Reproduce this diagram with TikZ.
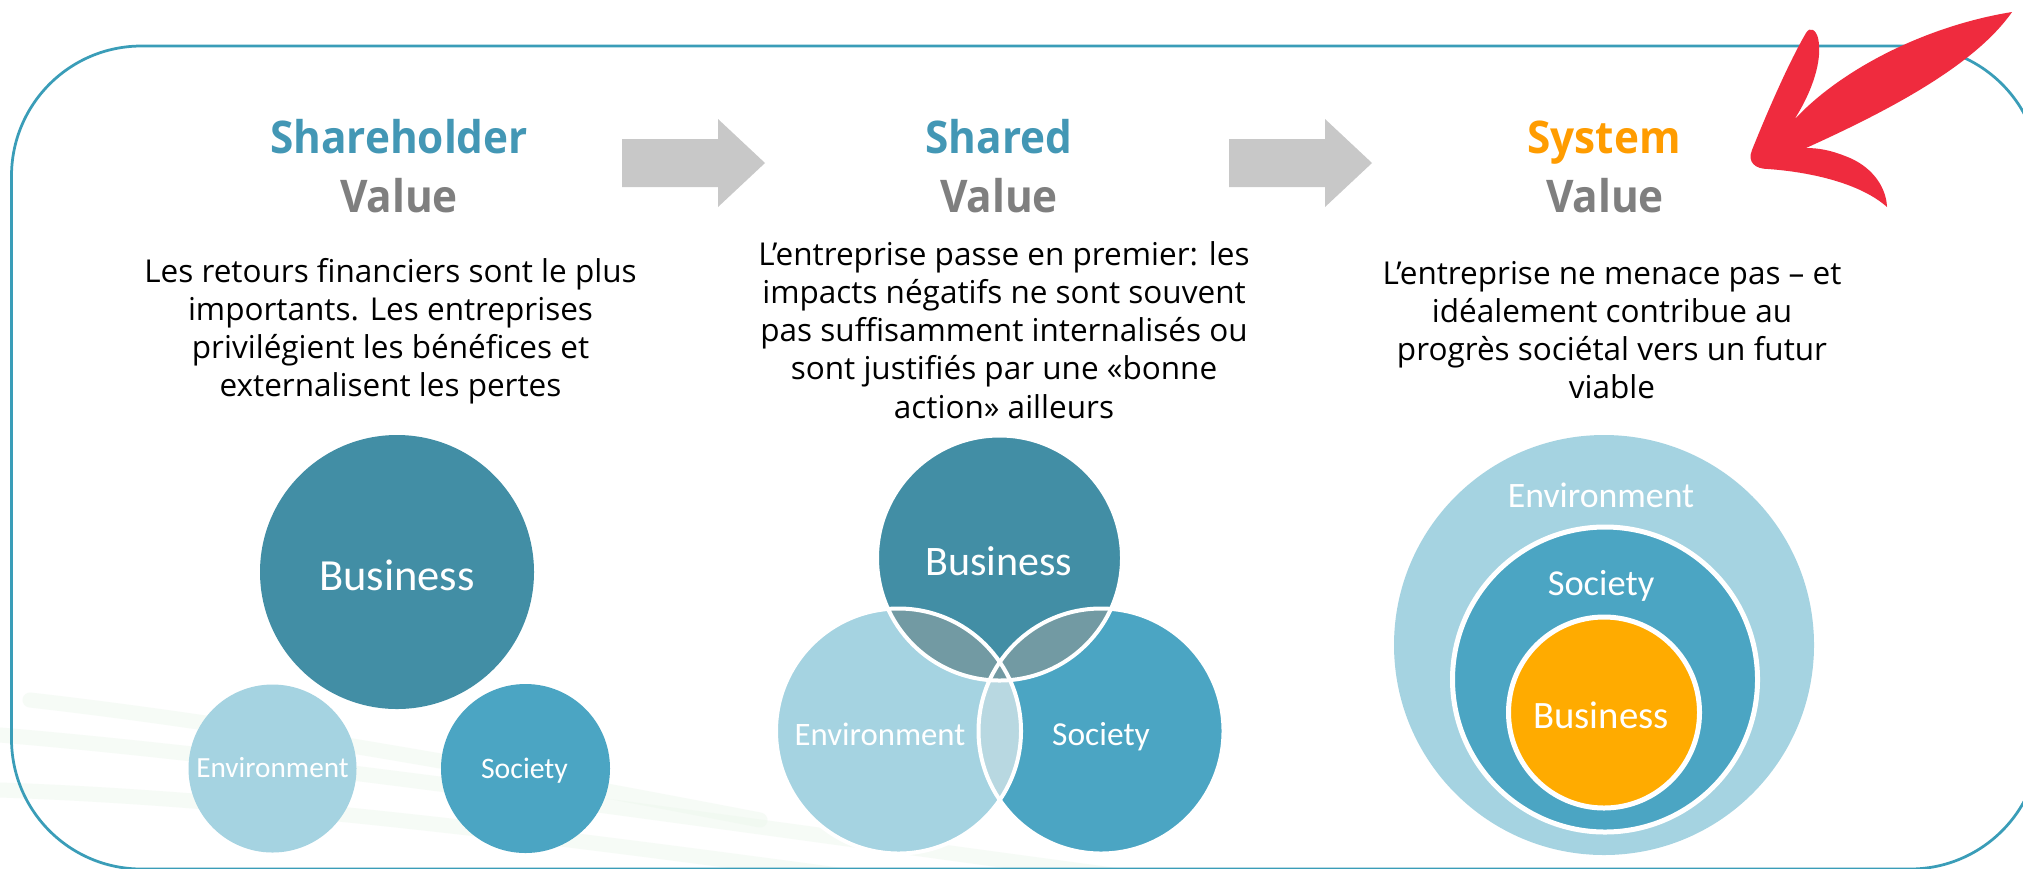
\documentclass[tikz,border=0pt]{standalone}
\usepackage{fontspec}
\setmainfont{Open Sans}
\newfontfamily\headfont[FakeStretch=0.94]{Open Sans}
\newfontfamily\labfont{Carlito}
\definecolor{frameC}{RGB}{58,157,184}
\definecolor{titleC}{RGB}{67,151,181}
\definecolor{valC}{RGB}{127,127,127}
\definecolor{sysC}{RGB}{255,156,0}
\definecolor{arrC}{RGB}{200,200,200}
\definecolor{busC}{RGB}{66,142,165}
\definecolor{socC}{RGB}{75,165,195}
\definecolor{envC}{RGB}{165,211,225}
\definecolor{ovC}{RGB}{114,154,163}
\definecolor{esC}{RGB}{184,216,225}
\definecolor{orC}{RGB}{255,171,0}
\definecolor{redC}{RGB}{239,43,62}
\definecolor{swC}{RGB}{236,247,236}
\begin{document}
\begin{tikzpicture}[x=0.4pt,y=-0.4pt,
  titlestyle/.style={font=\headfont\bfseries\fontsize{18}{18}\selectfont, anchor=base, inner sep=0},
  bodystyle/.style={font=\fontsize{12.6}{15.3}\selectfont, anchor=base, inner sep=0, text=black},
  labstyle/.style={font=\labfont\fontsize{#1}{#1}\selectfont, text=white, anchor=base, inner sep=0},
  disc/.style={circle, inner sep=0, minimum size=#1*0.8pt},
  outline/.style={draw=white, line width=1.6pt}]
\useasboundingbox (0,0) rectangle (2023,868);
\fill[white] (0,0) rectangle (2023,868);
% faint background swooshes
\begin{scope}[line width=6pt, swC, opacity=0.45, line cap=round]
  \draw (0,735) .. controls (300,760) and (700,820) .. (1150,880);
  \draw (0,790) .. controls (300,800) and (650,850) .. (950,890);
  \draw (30,700) .. controls (250,725) and (500,770) .. (760,820);
\end{scope}
% frame
\draw[frameC, line width=1.1pt, rounded corners=52pt] (11.5,46) rectangle (2040,869);
% gray block arrows
\fill[arrC] (622,139) -- (718,139) -- (718,119) -- (765,163) -- (718,207) -- (718,187) -- (622,187) -- cycle;
\fill[arrC] (1229,139) -- (1325,139) -- (1325,119) -- (1372,163) -- (1325,207) -- (1325,187) -- (1229,187) -- cycle;
% titles
\node[titlestyle, text=titleC] (t1) at (399,153) {Shareholder};
\node[titlestyle, text=valC] (v1) at (399,212) {Value};
\node[titlestyle, text=titleC] (t2) at (999,153) {Shared};
\node[titlestyle, text=valC] (v2) at (999,212) {Value};
\node[titlestyle, text=sysC] (t3) at (1604,153) {System};
\node[titlestyle, text=valC] (v3) at (1605,212) {Value};
% body texts
\foreach \t [count=\i] in {{Les retours financiers sont le plus},{importants. Les entreprises},{privilégient les bénéfices et},{externalisent les pertes}}
  \node[bodystyle] (ba\i) at (390.5,{282+38.3*(\i-1)}) {\t};
\foreach \t [count=\i] in {{L’entreprise passe en premier: les},{impacts négatifs ne sont souvent},{pas suffisamment internalisés ou},{sont justifiés par une «bonne},{action» ailleurs}}
  \node[bodystyle] (bb\i) at (1004,{265+38.3*(\i-1)}) {\t};
\foreach \t [count=\i] in {{L’entreprise ne menace pas – et},{idéalement contribue au},{progrès sociétal vers un futur},{viable}}
  \node[bodystyle] (bc\i) at (1612,{284+38.1*(\i-1)}) {\t};
% column 1
\node[disc=137, fill=busC] (b1) at (397,572) {};
\node[disc=84, fill=envC] (e1) at (272.5,768.5) {};
\node[disc=84.5, fill=socC] (s1) at (525.5,768.5) {};
\node[labstyle=17.8] (lb1) at (397,590) {Business};
\node[labstyle=11.7] (le1) at (272.5,777) {Environment};
\node[labstyle=11.9] (ls1) at (524.5,778) {Society};
% column 2 (Venn)
\node[disc=122.5, fill=busC] (b2) at (999.5,558) {};
\node[disc=122.5, fill=envC] (e2) at (898.5,731) {};
\node[disc=122.5, fill=socC] (s2) at (1101,731) {};
\begin{scope}
  \clip (e2.center) circle [radius=122.5];
  \fill[esC] (s2.center) circle [radius=122.5];
\end{scope}
\begin{scope}
  \clip (b2.center) circle [radius=122.5];
  \fill[ovC] (e2.center) circle [radius=122.5];
  \fill[ovC] (s2.center) circle [radius=122.5];
\end{scope}
\draw[outline] (b2.center) circle [radius=122.5];
\draw[outline] (e2.center) circle [radius=122.5];
\draw[outline] (s2.center) circle [radius=122.5];
\node[labstyle=16.8] (lb2) at (999,575) {Business};
\node[labstyle=13.1] (le2) at (880,745) {Environment};
\node[labstyle=13.4] (ls2) at (1101,745) {Society};
% column 3 (nested)
\node[disc=210, fill=envC] (e3) at (1604,645) {};
\node[disc=152.5, fill=socC, draw=white, line width=2pt] (s3) at (1605,679.5) {};
\node[disc=95.5, fill=orC, draw=white, line width=2pt] (b3) at (1604,712.5) {};
\node[labstyle=14.3] (le3) at (1601,507) {Environment};
\node[labstyle=14.6] (ls3) at (1601,595) {Society};
\node[labstyle=15.5] (lb3) at (1601,728) {Business};
% red hand-drawn arrow
\fill[redC] (2012,12) .. controls (1925,26) and (1840,70) .. (1794,120)
  .. controls (1812,92) and (1823,60) .. (1818,38)
  .. controls (1816,30) and (1810,26) .. (1806,33)
  .. controls (1790,60) and (1768,110) .. (1752,150)
  .. controls (1747,162) and (1755,169) .. (1768,169)
  .. controls (1810,172) and (1860,183) .. (1887,207)
  .. controls (1886,185) and (1870,165) .. (1845,156)
  .. controls (1830,150) and (1818,148) .. (1806,148)
  .. controls (1890,110) and (1975,65) .. (2012,12) -- cycle;
\end{tikzpicture}
\end{document}
